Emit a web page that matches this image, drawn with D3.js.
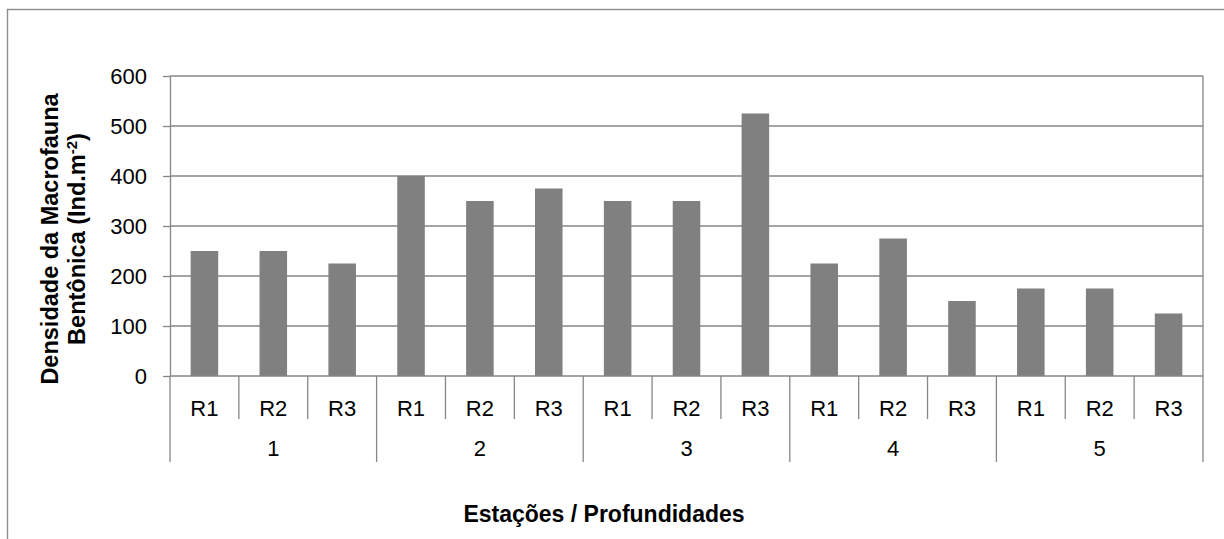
<!DOCTYPE html>
<html>
<head>
<meta charset="utf-8">
<script src="https://cdn.jsdelivr.net/npm/d3@7"></script>
<style>
  html, body { margin: 0; padding: 0; background: #ffffff; }
  svg { display: block; }
  text { font-family: "Liberation Sans", Arial, sans-serif; fill: #000; }
</style>
</head>
<body>
<svg id="chart" width="1224" height="539"></svg>
<script>
// Stations (outer category level) and depths / replicates (inner level)
const stations = ["1", "2", "3", "4", "5"];
const depths = ["R1", "R2", "R3"];

// Benthic macrofauna density per station, one entry per depth (Ind.m-2)
const station1 = [250, 250, 225];
const station2 = [400, 350, 375];
const station3 = [350, 350, 525];
const station4 = [225, 275, 150];
const station5 = [175, 175, 125];

const yTicks = [0, 100, 200, 300, 400, 500, 600];

const yTitleLine1 = "Densidade da Macrofauna";
const yTitleLine2 = "Bentônica (Ind.m";
const yTitleSup = "-2";
const xTitle = "Estações / Profundidades";

const seriesByStation = [station1, station2, station3, station4, station5];
const rows = [];
stations.forEach((s, si) => {
  depths.forEach((d, di) => {
    rows.push({ key: s + "-" + d, station: s, depth: d, value: seriesByStation[si][di] });
  });
});

const svg = d3.select("#chart");
const grey = "#868686";

// Outer chart frame
svg.append("rect")
  .attr("x", 7.5).attr("y", 9.5)
  .attr("width", 1240).attr("height", 560)
  .attr("fill", "none").attr("stroke", "#8c8c8c").attr("stroke-width", 1.4);

const plot = { left: 170, right: 1203, top: 76, bottom: 376 };

const x = d3.scaleBand()
  .domain(rows.map(r => r.key))
  .range([plot.left, plot.right])
  .paddingInner(0.6)
  .paddingOuter(0.3);

const y = d3.scaleLinear()
  .domain([0, 600])
  .range([plot.bottom, plot.top]);

const step = x.step();

// Horizontal gridlines
svg.append("g")
  .selectAll("line")
  .data(yTicks.filter(t => t > 0))
  .join("line")
  .attr("x1", plot.left).attr("x2", plot.right)
  .attr("y1", d => y(d)).attr("y2", d => y(d))
  .attr("stroke", grey).attr("stroke-width", 1.3);

// Right edge of the plot area
svg.append("line")
  .attr("x1", plot.right).attr("x2", plot.right)
  .attr("y1", plot.top).attr("y2", plot.bottom)
  .attr("stroke", grey).attr("stroke-width", 1.3);

// Bars
svg.append("g")
  .selectAll("rect")
  .data(rows)
  .join("rect")
  .attr("x", d => x(d.key))
  .attr("width", x.bandwidth())
  .attr("y", d => y(d.value))
  .attr("height", d => y(0) - y(d.value))
  .attr("fill", "#808080");

// Value axis
const yAxis = svg.append("g")
  .attr("transform", `translate(${plot.left},0)`)
  .call(d3.axisLeft(y).tickValues(yTicks).tickSize(7).tickPadding(16).tickSizeOuter(0));
yAxis.select(".domain").attr("stroke", grey).attr("stroke-width", 1.3);
yAxis.selectAll(".tick line").attr("stroke", grey).attr("stroke-width", 1.3);
yAxis.selectAll(".tick text")
  .style("font-family", '"Liberation Sans", Arial, sans-serif')
  .style("font-size", "22px")
  .attr("fill", "#000");

// Category axis baseline
svg.append("line")
  .attr("x1", plot.left).attr("x2", plot.right)
  .attr("y1", y(0)).attr("y2", y(0))
  .attr("stroke", grey).attr("stroke-width", 1.3);

// Dividers between depths (short) and between stations (long)
const boundaries = d3.range(rows.length + 1);
svg.append("g")
  .selectAll("line")
  .data(boundaries)
  .join("line")
  .attr("x1", i => plot.left + i * step)
  .attr("x2", i => plot.left + i * step)
  .attr("y1", y(0))
  .attr("y2", i => (i % depths.length === 0) ? 462 : 419)
  .attr("stroke", grey).attr("stroke-width", 1.3);

// Depth labels
svg.append("g")
  .selectAll("text")
  .data(rows)
  .join("text")
  .attr("x", d => x(d.key) + x.bandwidth() / 2)
  .attr("y", 416)
  .attr("text-anchor", "middle")
  .style("font-size", "22px")
  .text(d => d.depth);

// Station labels
svg.append("g")
  .selectAll("text")
  .data(stations)
  .join("text")
  .attr("x", (s, i) => plot.left + (i * depths.length + depths.length / 2) * step)
  .attr("y", 456)
  .attr("text-anchor", "middle")
  .style("font-size", "22px")
  .text(s => s);

// Axis titles
svg.append("text")
  .attr("x", 604).attr("y", 522)
  .attr("text-anchor", "middle")
  .style("font-size", "23px").style("font-weight", "bold")
  .text(xTitle);

const yTitle = svg.append("text")
  .attr("transform", "translate(0,239) rotate(-90)")
  .attr("text-anchor", "middle")
  .style("font-size", "23.5px").style("font-weight", "bold");
yTitle.append("tspan").attr("x", 0).attr("y", 58).text(yTitleLine1);
const line2 = yTitle.append("tspan").attr("x", 0).attr("y", 85);
line2.append("tspan").text(yTitleLine2);
line2.append("tspan").attr("dy", -8).style("font-size", "15px").text(yTitleSup);
line2.append("tspan").attr("dy", 8).text(")");
</script>
</body>
</html>
